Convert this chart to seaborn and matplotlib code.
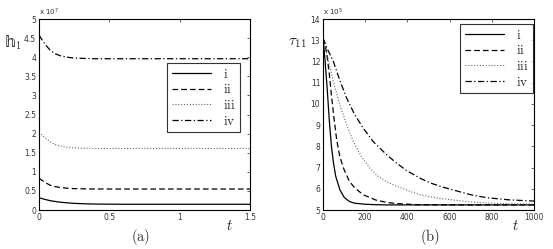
import numpy as np
import pandas as pd
import matplotlib
matplotlib.use('Agg')
import matplotlib.pyplot as plt
import seaborn as sns

# ---- data: panel (a), h1 in units of 1e7 ----
series_names = ['i', 'ii', 'iii', 'iv']

a_t_i = [0, 0.04, 0.078, 0.12, 0.16, 0.244, 0.32, 0.41, 0.6, 1.0, 1.5]
a_v_i = [0.32, 0.28, 0.245, 0.22, 0.2, 0.175, 0.163, 0.155, 0.15, 0.15, 0.15]
a_t_ii = [0, 0.04, 0.078, 0.11, 0.149, 0.2, 0.244, 0.3, 0.4, 0.6, 1.0, 1.5]
a_v_ii = [0.83, 0.73, 0.65, 0.615, 0.59, 0.57, 0.56, 0.555, 0.55, 0.55, 0.55, 0.55]
a_t_iii = [0, 0.04, 0.078, 0.11, 0.149, 0.2, 0.244, 0.3, 0.4, 0.6, 1.0, 1.5]
a_v_iii = [2.03, 1.9, 1.79, 1.72, 1.675, 1.645, 1.63, 1.62, 1.61, 1.61, 1.61, 1.61]
a_t_iv = [0, 0.04, 0.078, 0.11, 0.149, 0.2, 0.244, 0.3, 0.4, 0.6, 1.0, 1.5]
a_v_iv = [4.58, 4.35, 4.19, 4.1, 4.04, 4.0, 3.98, 3.97, 3.96, 3.96, 3.96, 3.96]

# ---- data: panel (b), tau11 in units of 1e5 ----
b_t_i = [0, 5, 10, 20, 30, 40, 50, 60, 80, 100, 125, 150, 200, 250, 300, 400, 500, 700, 1000]
b_v_i = [13.1, 12.6, 12.0, 10.7, 9.2, 8.0, 7.2, 6.6, 5.95, 5.6, 5.4, 5.32, 5.27, 5.25,
         5.24, 5.24, 5.24, 5.24, 5.24]
b_t_ii = [0, 10, 20, 30, 40, 50, 65, 80, 100, 125, 150, 190, 250, 300, 350, 450, 600, 1000]
b_v_ii = [13.1, 12.8, 12.2, 11.4, 10.4, 9.5, 8.3, 7.5, 6.9, 6.35, 6.05, 5.72, 5.47, 5.36,
          5.3, 5.25, 5.24, 5.24]
b_t_iii = [0, 20, 49, 75, 96, 120, 144, 180, 223, 260, 302, 340, 381, 420, 460, 507, 560,
           618, 700, 776, 880, 1000]
b_v_iii = [13.1, 12.3, 11.05, 10.1, 9.48, 8.8, 8.22, 7.55, 6.96, 6.6, 6.33, 6.15, 6.0, 5.85,
           5.72, 5.62, 5.54, 5.47, 5.38, 5.33, 5.3, 5.28]
b_t_iv = [0, 20, 49, 80, 112, 150, 191, 240, 302, 350, 397, 460, 507, 560, 618, 700, 776,
          880, 1000]
b_v_iv = [13.1, 12.6, 12.0, 11.1, 10.27, 9.5, 8.85, 8.2, 7.6, 7.2, 6.85, 6.5, 6.28, 6.1,
          5.94, 5.72, 5.58, 5.48, 5.42]

a_xticks = [0, 0.5, 1, 1.5]
a_xticklabels = ['0', '0.5', '1', '1.5']
a_yticks = [0, 0.5, 1, 1.5, 2, 2.5, 3, 3.5, 4, 4.5, 5]
a_yticklabels = ['0', '0.5', '1', '1.5', '2', '2.5', '3', '3.5', '4', '4.5', '5']
b_xticks = [0, 200, 400, 600, 800, 1000]
b_xticklabels = ['0', '200', '400', '600', '800', '1000']
b_yticks = [5, 6, 7, 8, 9, 10, 11, 12, 13, 14]
b_yticklabels = ['5', '6', '7', '8', '9', '10', '11', '12', '13', '14']


def to_long(ts, vs):
    frames = []
    for name, t, v in zip(series_names, ts, vs):
        frames.append(pd.DataFrame({'t': t, 'v': v, 'case': name}))
    return pd.concat(frames, ignore_index=True)


df_a = to_long([a_t_i, a_t_ii, a_t_iii, a_t_iv], [a_v_i, a_v_ii, a_v_iii, a_v_iv])
df_b = to_long([b_t_i, b_t_ii, b_t_iii, b_t_iv], [b_v_i, b_v_ii, b_v_iii, b_v_iv])

sns.set_style('white')
plt.rcParams['font.family'] = ['DejaVu Sans']
plt.rcParams['mathtext.fontset'] = 'cm'

line_styles = {
    'i': dict(linestyle='-', color='black', lw=0.9),
    'ii': dict(linestyle=(0, (4.5, 2.5)), color='black', lw=0.9),
    'iii': dict(linestyle=(0, (1, 1.6)), color='0.4', lw=0.8),
    'iv': dict(linestyle=(0, (5, 2, 1, 2)), color='black', lw=0.9),
}

fig = plt.figure(figsize=(5.53, 2.49), dpi=100)
ax_a = fig.add_axes([39 / 553, 39 / 249, 211 / 553, 191 / 249])
ax_b = fig.add_axes([323 / 553, 39 / 249, 211 / 553, 191 / 249])


def draw(ax, df, xlim, ylim, xticks, xtl, yticks, ytl):
    for name in series_names:
        sub = df[df['case'] == name]
        st = line_styles[name]
        sns.lineplot(data=sub, x='t', y='v', ax=ax, color=st['color'], lw=st['lw'],
                     linestyle=st['linestyle'], label=r'$\mathrm{%s}$' % name,
                     estimator=None, sort=False)
    ax.set_xlim(*xlim)
    ax.set_ylim(*ylim)
    ax.set_xticks(xticks)
    ax.set_xticklabels(xtl)
    ax.set_yticks(yticks)
    ax.set_yticklabels(ytl)
    ax.set_xlabel('')
    ax.set_ylabel('')
    ax.tick_params(direction='in', length=2.5, width=0.5, labelsize=5.5,
                   labelcolor='0.2', top=True, right=True, pad=2)
    for sp in ax.spines.values():
        sp.set_visible(True)
        sp.set_color('black')
        sp.set_linewidth(0.8)


draw(ax_a, df_a, (0, 1.5), (0, 5), a_xticks, a_xticklabels, a_yticks, a_yticklabels)
draw(ax_b, df_b, (0, 1000), (5, 14), b_xticks, b_xticklabels, b_yticks, b_yticklabels)

leg_kw = dict(fontsize=9.5, frameon=True, fancybox=False, edgecolor='black',
              handlelength=3.0, handletextpad=0.9, borderpad=0.35, labelspacing=0.2,
              borderaxespad=0.0)
leg_a = ax_a.legend(loc='upper left', bbox_to_anchor=(128 / 211, 1 - 44 / 191), **leg_kw)
leg_b = ax_b.legend(loc='upper left', bbox_to_anchor=(137 / 211, 1 - 5 / 191), **leg_kw)
for leg in (leg_a, leg_b):
    leg.get_frame().set_linewidth(0.8)

# offset multipliers
ax_a.text(0.0, 1.005, r'x 10$^{7}$', transform=ax_a.transAxes, fontsize=5,
          color='0.2', va='bottom', ha='left', math_fontfamily='dejavusans')
ax_b.text(0.0, 1.005, r'x 10$^{5}$', transform=ax_b.transAxes, fontsize=5,
          color='0.2', va='bottom', ha='left', math_fontfamily='dejavusans')

# axis labels
fig.text(13 / 553, 1 - 43 / 249, '\U0001D559$_1$', fontsize=10.5, ha='center',
         va='center', family=['DejaVu Sans', 'Noto Sans'])
fig.text(297 / 553, 1 - 42 / 249, r'$\tau_{11}$', fontsize=11, ha='center', va='center')
fig.text(229 / 553, 1 - 225 / 249, r'$t$', fontsize=10.5, ha='center', va='center')
fig.text(515 / 553, 1 - 225 / 249, r'$t$', fontsize=10.5, ha='center', va='center')
fig.text(141 / 553, 1 - 237 / 249, r'$\mathrm{(a)}$', fontsize=10.5, ha='center', va='center')
fig.text(430 / 553, 1 - 237 / 249, r'$\mathrm{(b)}$', fontsize=10.5, ha='center', va='center')

fig.savefig('out.png', dpi=100)
